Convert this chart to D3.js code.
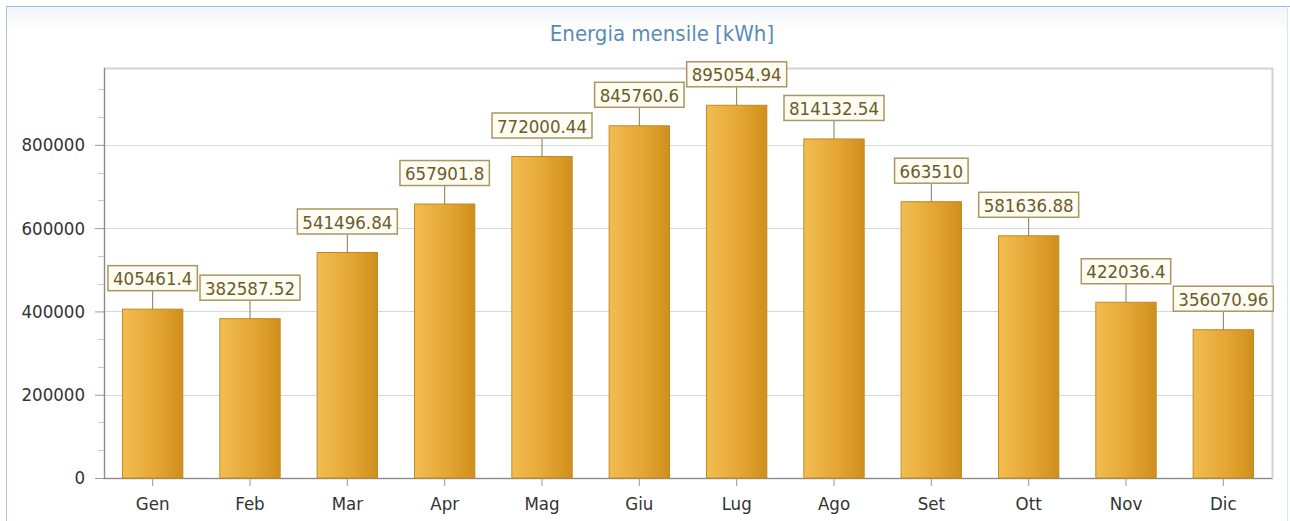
<!DOCTYPE html>
<html>
<head>
<meta charset="utf-8">
<script src="https://cdn.jsdelivr.net/npm/d3@7"></script>
<style>
  body { margin: 0; background: #ffffff; }
  svg { display: block; font-family: "DejaVu Sans Condensed", "DejaVu Sans", sans-serif; }
</style>
</head>
<body>
<div id="chart"></div>
<script>
var months = ["Gen", "Feb", "Mar", "Apr", "Mag", "Giu", "Lug", "Ago", "Set", "Ott", "Nov", "Dic"];
var energy = [405461.4, 382587.52, 541496.84, 657901.8, 772000.44, 845760.6, 895054.94, 814132.54, 663510, 581636.88, 422036.4, 356070.96];
var yTicks = [0, 200000, 400000, 600000, 800000];
var labels = ["405461.4", "382587.52", "541496.84", "657901.8", "772000.44", "845760.6", "895054.94", "814132.54", "663510", "581636.88", "422036.4", "356070.96"];

var svgWidth = 1290;
var svgHeight = 521;

var margin = {
  top: 68,
  right: 18,
  bottom: 43,
  left: 104
};

var width = svgWidth - margin.left - margin.right;
var height = svgHeight - margin.top - margin.bottom;

var svg = d3.select("#chart")
  .append("svg")
  .attr("width", svgWidth)
  .attr("height", svgHeight);

var defs = svg.append("defs");

var barGrad = defs.append("linearGradient")
  .attr("id", "barGrad")
  .attr("x1", "0").attr("y1", "0").attr("x2", "1").attr("y2", "0");
barGrad.append("stop").attr("offset", "0%").attr("stop-color", "#f2bd52");
barGrad.append("stop").attr("offset", "55%").attr("stop-color", "#e4a634");
barGrad.append("stop").attr("offset", "100%").attr("stop-color", "#cf8f1c");

var bgGrad = defs.append("linearGradient")
  .attr("id", "bgGrad")
  .attr("x1", "0").attr("y1", "0").attr("x2", "0").attr("y2", "1");
bgGrad.append("stop").attr("offset", "0%").attr("stop-color", "#eef6fc");
bgGrad.append("stop").attr("offset", "100%").attr("stop-color", "#fffefa");

// outer panel
svg.append("rect")
  .attr("x", 6).attr("y", 6)
  .attr("width", svgWidth - 8).attr("height", 24)
  .attr("fill", "url(#bgGrad)");

svg.append("line")
  .attr("x1", 6).attr("x2", svgWidth).attr("y1", 6.5).attr("y2", 6.5)
  .attr("stroke", "#9fb6cc");
svg.append("line")
  .attr("x1", 6.5).attr("x2", 6.5).attr("y1", 6).attr("y2", svgHeight)
  .attr("stroke", "#a9c3dc");
svg.append("line")
  .attr("x1", svgWidth - 2.5).attr("x2", svgWidth - 2.5).attr("y1", 6).attr("y2", svgHeight)
  .attr("stroke", "#d6e6f4");

svg.append("text")
  .attr("x", 662)
  .attr("y", 41)
  .attr("text-anchor", "middle")
  .style("font-size", "22px")
  .style("fill", "#5a8bb8")
  .text("Energia mensile [kWh]");

var chart = svg.append("g")
  .attr("transform", `translate(${margin.left}, ${margin.top})`);

var xScale = d3.scaleBand()
  .domain(months)
  .range([0, width])
  .paddingInner(0.38)
  .paddingOuter(0.19);

var yScale = d3.scaleLinear()
  .domain([0, d3.max(energy) * 1.1])
  .range([height, 0]);

// minor ticks every third of a major step
var minorTicks = d3.range(0, d3.max(energy) * 1.1, 200000 / 3)
  .filter(function (v, i) { return i % 3 != 0; });

// plot frame
chart.append("rect")
  .attr("x", 0.5).attr("y", 0.5)
  .attr("width", width).attr("height", height)
  .attr("fill", "none")
  .attr("stroke", "#d2d2d2")
  .attr("stroke-width", 2);

chart.selectAll(".grid")
  .data(yTicks.slice(1))
  .enter()
  .append("line")
  .attr("class", "grid")
  .attr("x1", 0).attr("x2", width)
  .attr("y1", d => Math.round(yScale(d)) + 0.5)
  .attr("y2", d => Math.round(yScale(d)) + 0.5)
  .attr("stroke", "#d8d8d8");

chart.selectAll(".minor")
  .data(minorTicks)
  .enter()
  .append("line")
  .attr("class", "minor")
  .attr("x1", -6).attr("x2", 0)
  .attr("y1", d => Math.round(yScale(d)) + 0.5)
  .attr("y2", d => Math.round(yScale(d)) + 0.5)
  .attr("stroke", "#c8c8c8");

var leftAxis = d3.axisLeft(yScale)
  .tickValues(yTicks)
  .tickSize(9)
  .tickPadding(10)
  .tickFormat(d3.format("d"));

var yAxis = chart.append("g")
  .call(leftAxis);
yAxis.select(".domain").attr("stroke", "#8a8a8a").attr("d", `M0.5,0V${height}`);
yAxis.selectAll(".tick line").attr("stroke", "#9a9a9a");
yAxis.selectAll(".tick text")
  .style("font-size", "18.5px")
  .style("fill", "#333333")
  .style("font-family", "'DejaVu Sans Condensed', 'DejaVu Sans', sans-serif");

var bottomAxis = d3.axisBottom(xScale)
  .tickSize(8)
  .tickPadding(11);

var xAxis = chart.append("g")
  .attr("transform", `translate(0, ${height})`)
  .call(bottomAxis);
xAxis.select(".domain").attr("stroke", "#8a8a8a").attr("d", `M0,0.5H${width}`);
xAxis.selectAll(".tick line").attr("stroke", "#9a9a9a");
xAxis.selectAll(".tick text")
  .style("font-size", "18.5px")
  .style("fill", "#333333")
  .style("font-family", "'DejaVu Sans Condensed', 'DejaVu Sans', sans-serif");

chart.selectAll(".bar")
  .data(energy)
  .enter()
  .append("rect")
  .attr("class", "bar")
  .attr("x", (d, i) => xScale(months[i]))
  .attr("y", d => yScale(d))
  .attr("width", xScale.bandwidth())
  .attr("height", d => height - yScale(d))
  .attr("fill", "url(#barGrad)")
  .attr("stroke", "#c08a22")
  .attr("stroke-width", 1);

// value labels with connector
var labelGroup = chart.selectAll(".label")
  .data(energy)
  .enter()
  .append("g")
  .attr("class", "label")
  .attr("transform", (d, i) => `translate(${xScale(months[i]) + xScale.bandwidth() / 2}, ${yScale(d)})`);

labelGroup.append("line")
  .attr("x1", 0).attr("x2", 0)
  .attr("y1", 0).attr("y2", -18)
  .attr("stroke", "#8c7a48");

labelGroup.each(function (d, i) {
  var g = d3.select(this);
  var t = g.append("text")
    .attr("x", 0)
    .attr("y", -24)
    .attr("text-anchor", "middle")
    .style("font-size", "18.5px")
    .style("fill", "#6a5c2c")
    .text(labels[i]);
  var w = t.node().getComputedTextLength() + 10;
  g.insert("rect", "text")
    .attr("x", -w / 2)
    .attr("y", -43.5)
    .attr("width", w)
    .attr("height", 25)
    .attr("fill", "#fffdf2")
    .attr("stroke", "#a89663")
    .attr("stroke-width", 1.5);
});
</script>
</body>
</html>
